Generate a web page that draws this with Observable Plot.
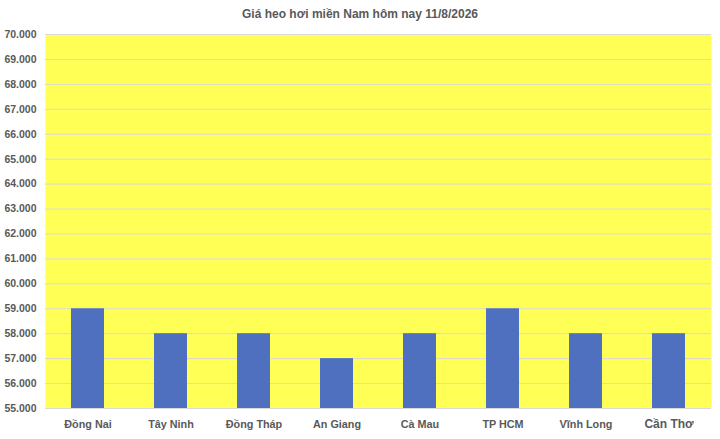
<!DOCTYPE html>
<html>
<head>
<meta charset="utf-8">
<script src="https://cdn.jsdelivr.net/npm/d3@7"></script>
<script src="https://cdn.jsdelivr.net/npm/@observablehq/plot@0.6"></script>
<style>
  body { margin: 0; background: #fff; font-family: "Liberation Sans", Arial, sans-serif; }
  #title { height: 26px; line-height: 28px; text-align: center; font-size: 12px; font-weight: bold; color: #595959; width: 720px; }
</style>
</head>
<body>
<div id="title">Giá heo hơi miền Nam hôm nay 11/8/2026</div>
<div id="chart"></div>
<script>
const provinces = ["Đồng Nai", "Tây Ninh", "Đồng Tháp", "An Giang", "Cà Mau", "TP HCM", "Vĩnh Long", "Cần Thơ"];
const prices = [59000, 58000, 58000, 57000, 58000, 59000, 58000, 58000];
const yTicks = [55000, 56000, 57000, 58000, 59000, 60000, 61000, 62000, 63000, 64000, 65000, 66000, 67000, 68000, 69000, 70000];

const data = provinces.map((p, i) => ({province: p, price: prices[i]}));
const fmt = v => d3.format(",.0f")(v / 1000).replace(/,/g, ".") + ".000";

const chart = Plot.plot({
  width: 720,
  height: 413,
  marginTop: 8,
  marginBottom: 31,
  marginLeft: 45,
  marginRight: 9,
  style: {fontFamily: "'Liberation Sans', Arial, sans-serif", background: "transparent"},
  x: {domain: provinces, paddingInner: 0.6, paddingOuter: 0.3, axis: null},
  y: {domain: [55000, 70000], axis: null, label: null},
  marks: [
    Plot.frame({fill: "#ffff55", stroke: null}),
    Plot.ruleY(yTicks, {stroke: "#d9d9d9", strokeWidth: 1}),
    Plot.barY(data, {x: "province", y1: 55000, y2: "price", fill: "#4f70bf"}),
    Plot.axisY({ticks: yTicks, tickFormat: fmt, tickSize: 0, tickPadding: 9, fontSize: 10.5, fontWeight: "bold", fill: "#595959", label: null}),
    Plot.text(provinces, {
      x: d => d,
      frameAnchor: "bottom",
      dy: 16,
      text: d => d,
      fontSize: d => d === "Cần Thơ" ? 12 : 10.8,
      fontWeight: "bold",
      fill: "#595959",
      lineAnchor: "middle"
    })
  ]
});
document.getElementById("chart").appendChild(chart);
</script>
</body>
</html>
